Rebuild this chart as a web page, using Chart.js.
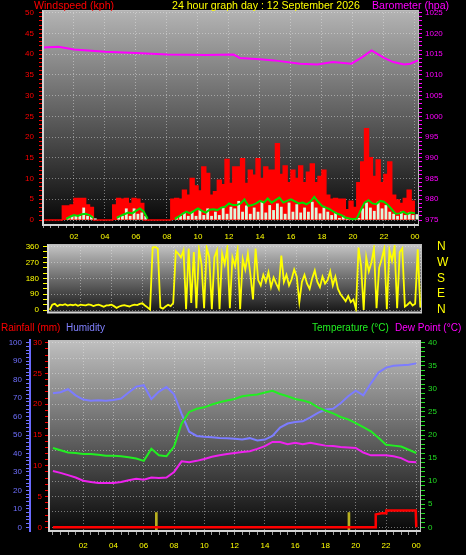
<!DOCTYPE html>
<html>
<head>
<meta charset="utf-8">
<script src="https://cdn.jsdelivr.net/npm/chart.js@4.4.1/dist/chart.umd.min.js"></script>
<style>
  html, body { margin: 0; padding: 0; background: #000; }
  body { width: 466px; height: 555px; position: relative; overflow: hidden; }
  canvas { position: absolute; left: 0; }
  #windChart { top: 0; }
  #dirChart { top: 228px; }
  #tempChart { top: 315px; }
</style>
</head>
<body>
<canvas id="windChart" width="466" height="240"></canvas>
<canvas id="dirChart" width="466" height="94"></canvas>
<canvas id="tempChart" width="466" height="240"></canvas>
<script>
// ---- wind panel, one reading per quarter hour from 00:00 ----
const gustKph = [0, 0, 0, 0, 0, 0, 3.4, 3.4, 3.6, 5.2, 5.2, 5.2, 3.6, 3.0,
    0, 0, 0, 0, 0, 3.6, 5.2, 5.0, 5.2, 4.0, 5.2, 5.0, 4.0,
    0, 0, 0, 0, 0, 0, 0,
    5.0, 5.2, 5.0, 7.2, 6.0, 10, 8.2, 7.0, 12.8, 11.2, 6.0, 6.8, 9.6, 8.5, 14.6,
    8.8, 12.8, 12.8, 14.8, 8.8, 12.0, 10.8, 14.8, 10, 12.8, 12.0, 12, 18.4, 11, 13, 9,
    12, 10, 13, 9, 11.5, 13.5, 9, 10.5, 12, 6, 5, 5.2, 5.0, 5.0, 2.5, 4.5, 3.0,
    9, 14, 22, 15, 10.5, 14.5, 9, 11, 14, 6, 4.8, 4.0, 5.2, 7.2, 4.5];
const speedKph = [0, 0, 0, 0, 0, 0, 0.6, 1.0, 1.0, 1.0, 3.0, 1.0, 1.0, 0.4,
    0, 0, 0, 0, 0, 0.8, 1.0, 2.8, 1.0, 2.8, 1.5, 1.8, 1.0,
    0, 0, 0, 0, 0, 0, 0,
    0.5, 1.0, 1.8, 1.0, 2.0, 1.0, 2.4, 1.2, 2.8, 1.0, 2.0, 1.2, 3.0, 1.5, 3.2,
    2.8, 4.6, 2.0, 3.5, 1.5, 3.0, 2.0, 4.6, 1.8, 3.6, 2.4, 4.0, 3.2, 1.5, 4.2, 2.0,
    3.8, 1.8, 3.0, 2.0, 4.4, 3.0, 1.6, 3.0, 2.0, 1.2, 1.8, 0.5, 1.0, 0.3, 0.2, 0.3, 0.5,
    2.8, 4.2, 3.0, 2.2, 4.4, 2.8, 3.6, 2.0, 1.5, 1.0, 2.0, 1.2, 1.8, 1.2, 1.4];
// average speed, null while calm
const avgKph = [null, null, null, null, null, null, 0.3, 0.8, 1.2, 1.0, 1.4, 1.5, 1.2, 0.5,
    null, null, null, null, null, 0.5, 1.0, 1.4, 1.8, 1.6, 2.2, 2.8, 2.0,
    0.3, null, null, null, null, null, null,
    0.3, 0.8, 1.5, 2.0, 1.6, 2.2, 2.8, 2.2, 1.8, 2.5, 2.6, 2.4, 3.0, 3.2, 4.0,
    3.6, 3.6, 4.0, 5.0, 3.4, 3.6, 4.0, 4.6, 4.2, 5.2, 4.2, 4.8, 5.4, 4.2, 4.6, 5.0,
    4.5, 4.0, 4.2, 3.8, 4.4, 5.6, 4.4, 3.4, 3.0, 2.6, 2.0, 1.5, 1.2, 0.6, 0.4, 0.2, 0.4,
    2.4, 4.2, 4.8, 4.0, 3.8, 4.6, 4.4, 3.6, 2.6, 1.5, 1.6, 2.0, 1.4, 1.8, 1.6];
const baroHours = [0, 1, 2, 4, 6, 8, 10.5, 12.3, 12.7, 14, 14.9, 16.6, 17.7, 18.7, 19.9, 20.6, 21.2, 22.0, 22.6, 23.3, 23.7, 24.2];
const baroHpa = [1016.6, 1016.8, 1016.1, 1015.6, 1015.3, 1014.9, 1014.8, 1014.9, 1014.1, 1013.8, 1013.5,
    1012.7, 1012.5, 1013.1, 1012.7, 1014.3, 1015.9, 1014.1, 1013.1, 1012.5, 1012.7, 1013.5];
const windTicks = [0, 5, 10, 15, 20, 25, 30, 35, 40, 45, 50];
const baroTicks = [975, 980, 985, 990, 995, 1000, 1005, 1010, 1015, 1020, 1025];

// ---- wind direction, one reading every 10 minutes ----
const dirDeg = [0, 30, 35, 22, 30, 28, 33, 25, 30, 27,
    32, 24, 30, 28, 26, 32, 29, 22, 28, 30,
    25, 18, 26, 27, 30, 22, 12, 20, 25, 28,
    24, 20, 27, 30, 28, 35, 38, 26, 15, 2,
    355, 358, 350, 15, 8, 20, 30, 22, 40, 335,
    320, 300, 340, 5, 350, 40, 330, 10, 345, 260,
    10, 355, 300, 5, 300, 340, 5, 320, 260, 350,
    10, 300, 250, 340, 5, 290, 230, 320, 200, 60,
    350, 170, 140, 200, 160, 215, 130, 185, 150, 120,
    310, 160, 200, 140, 175, 230, 190, 45, 160, 200,
    150, 120, 180, 225, 160, 130, 190, 150, 170, 220,
    140, 190, 120, 90, 70, 50, 80, 45, 60, 5,
    355, 250, 0, 300, 220, 270, 350, 10, 240, 290,
    350, 5, 340, 280, 360, 10, 330, 350, 20, 30,
    45, 25, 35, 345, 15];
const dirTicks = [0, 90, 180, 270, 360];
const dirLetters = ['N', 'E', 'S', 'W', 'N'];

// ---- temperature panel, half-hourly ----
const humidityPct = [72.6, 73.2, 74.8, 71.5, 69.2, 68.6, 68.8, 68.6, 69.0, 69.8,
    73.0, 76.2, 77.0, 69.5, 73.5, 76.0, 72.0, 61.5, 51.8, 49.5,
    49.0, 48.8, 48.4, 48.2, 48.0, 47.6, 48.3, 47.0, 47.5, 49.5,
    54.0, 56.2, 57.0, 57.4, 59.5, 62.0, 63.8, 64.2, 67.2, 71.0,
    74.0, 71.5, 78.0, 83.8, 86.5, 87.5, 87.8, 88.0, 88.8];
const tempC = [17.2, 16.7, 16.2, 16.1, 15.9, 15.9, 15.7, 15.5, 15.5, 15.4,
    15.2, 14.9, 14.4, 17.0, 15.6, 15.4, 17.5, 22.5, 25.0, 25.7,
    26.0, 26.6, 27.1, 27.5, 27.8, 28.4, 28.6, 28.8, 29.2, 29.6,
    28.9, 28.4, 27.8, 27.5, 27.0, 26.0, 25.3, 24.7, 23.9, 23.4,
    22.6, 21.7, 20.8, 19.4, 17.9, 17.7, 17.5, 16.8, 16.1];
const dewC = [12.2, 11.8, 11.3, 10.8, 10.1, 9.8, 9.6, 9.6, 9.6, 9.8,
    10.2, 10.5, 10.3, 10.8, 10.7, 10.8, 12.0, 14.3, 14.1, 14.4,
    14.8, 15.3, 15.6, 15.9, 16.1, 16.3, 16.5, 17.0, 17.6, 18.5,
    18.5, 18.0, 18.3, 18.0, 18.3, 18.0, 17.7, 17.6, 17.4, 17.3,
    17.2, 16.2, 15.6, 15.6, 15.6, 15.4, 15.0, 14.2, 14.1];
const rainHours = [0, 21.3, 21.32, 21.7, 22.0, 22.02, 23.96, 24.0];
const rainMm = [0, 0, 2.1, 2.3, 2.3, 2.75, 2.75, 0];
const sunHours = [6.83, 19.55];      // sunrise / sunset markers
const sunMarkMm = [2.4, 2.4];
const humTicks = [0, 10, 20, 30, 40, 50, 60, 70, 80, 90, 100];
const rainTicks = [0, 5, 10, 15, 20, 25, 30];
const tempTicks = [0, 5, 10, 15, 20, 25, 30, 35, 40];

const hourTicks = [2, 4, 6, 8, 10, 12, 14, 16, 18, 20, 22, 24];
const hourLabels = ['02', '04', '06', '08', '10', '12', '14', '16', '18', '20', '22', '00'];

const GRID = 'rgba(235,235,235,0.45)';
const NONE = 'rgba(0,0,0,0)';
Chart.defaults.font.family = '"Liberation Sans", Arial, sans-serif';

function perStep(values, step, shift) {
    return values.map((v, i) => ({ x: i * step + shift, y: v }));
}
function pairs(xs, ys) {
    return xs.map((x, i) => ({ x: x, y: ys[i] }));
}
function tickRun(from, to, step) {
    const out = [];
    for (let v = from; v <= to + 1e-6; v += step) out.push({ value: +v.toFixed(3) });
    return out;
}
function near(v, list) {
    return list.some(m => Math.abs(m - v) < 1e-6);
}

function sideAxis(o) {
    return {
        position: o.position,
        weight: o.weight || 0,
        min: o.min, max: o.max,
        afterBuildTicks: s => { s.ticks = tickRun(o.from, o.to, o.step); },
        afterFit: s => { s.width = o.width; },
        ticks: {
            color: o.color, font: { size: o.fontSize || 8 }, padding: o.padding, autoSkip: false,
            callback: v => {
                const k = o.labelAt.findIndex(m => Math.abs(m - v) < 1e-6);
                if (k < 0) return '';
                return o.labelText ? o.labelText[k] : String(o.labelAt[k]);
            }
        },
        grid: {
            drawOnChartArea: !!o.gridAt,
            drawTicks: o.tickLength > 0,
            tickLength: o.tickLength,
            tickWidth: 1,
            tickBorderDash: [],
            color: c => (o.gridAt && c.tick && near(c.tick.value, o.gridAt)) ? GRID : NONE,
            tickColor: c => (!o.markAt || (c.tick && near(c.tick.value, o.markAt))) ? o.color : NONE
        },
        border: { display: !!o.border, color: o.border, width: 2, dash: [1, 2] }
    };
}

function hourAxis(o) {
    return {
        type: 'linear', position: 'bottom', min: o.min, max: o.max, offset: false,
        afterBuildTicks: s => { s.ticks = tickRun(0, 24, 0.5); },
        afterFit: s => { s.height = o.height; },
        ticks: {
            display: o.labels, color: '#ffff00', font: { size: 8 }, padding: o.padding || 0,
            autoSkip: false, maxRotation: 0,
            callback: v => {
                const k = hourTicks.findIndex(m => Math.abs(m - v) < 1e-6);
                return k < 0 ? '' : hourLabels[k];
            }
        },
        grid: {
            offset: false,
            drawTicks: o.tickLength > 0,
            tickLength: o.tickLength,
            tickBorderDash: [],
            color: c => (c.tick && near(c.tick.value, hourTicks)) ? GRID : NONE,
            tickColor: '#9a9a9a'
        },
        border: { display: false, dash: [1, 2] }
    };
}

// gradient plot background, light frame and the coloured headings
const panelDecor = {
    id: 'panelDecor',
    beforeDraw(chart, args, o) {
        const { ctx, chartArea: a } = chart;
        const g = ctx.createLinearGradient(0, a.top, 0, a.bottom);
        g.addColorStop(0, o.top);
        g.addColorStop(1, o.bottom);
        ctx.save();
        ctx.fillStyle = g;
        ctx.fillRect(a.left, a.top, a.right - a.left, a.bottom - a.top);
        ctx.restore();
    },
    afterDraw(chart, args, o) {
        const { ctx, chartArea: a } = chart;
        ctx.save();
        ctx.strokeStyle = '#d4d4d4';
        ctx.lineWidth = 2;
        ctx.beginPath();
        ctx.moveTo(a.left, a.top);
        ctx.lineTo(a.left, a.bottom);
        ctx.lineTo(a.right, a.bottom);
        ctx.stroke();
        ctx.lineWidth = 1;
        ctx.strokeStyle = '#bcbcbc';
        ctx.beginPath();
        ctx.moveTo(a.left, a.top + 0.5);
        ctx.lineTo(a.right - 0.5, a.top + 0.5);
        ctx.lineTo(a.right - 0.5, a.bottom);
        ctx.stroke();
        ctx.font = (o.textSize || 10) + 'px "Liberation Sans", Arial, sans-serif';
        ctx.textBaseline = 'alphabetic';
        (o.texts || []).forEach(t => {
            ctx.fillStyle = t.color;
            ctx.fillText(t.text, t.x, o.textY);
        });
        ctx.restore();
    }
};

function baseOptions(padding, decor) {
    return {
        responsive: false,
        animation: false,
        devicePixelRatio: 1,
        layout: { padding: padding },
        elements: { point: { radius: 0 }, line: { tension: 0 } },
        plugins: { legend: { display: false }, tooltip: { enabled: false }, panelDecor: decor }
    };
}

// ---- top: wind speed and barometer ----
const windOpts = baseOptions({ top: 10, left: 0, right: 0, bottom: 0 }, {
    top: '#b4b4b4', bottom: '#050505', textY: 9, textSize: 10.6,
    texts: [
        { text: 'Windspeed (kph)', x: 34, color: '#ff0000' },
        { text: '24 hour graph day : 12 September 2026', x: 172, color: '#ffff00' },
        { text: 'Barometer (hpa)', x: 372, color: '#ff00ff' }
    ]
});
windOpts.scales = {
    x: hourAxis({ min: 0, max: 24.26, height: 15, tickLength: 3, padding: 4, labels: true }),
    yWind: sideAxis({ position: 'left', min: -1.2, max: 50.65, from: 0, to: 50, step: 1,
        labelAt: windTicks, gridAt: windTicks, width: 43, color: '#ff0000', padding: 5, tickLength: 4 }),
    yBaro: sideAxis({ position: 'right', min: 973.8, max: 1025.65, from: 975, to: 1025, step: 1,
        labelAt: baroTicks, width: 47, color: '#ff00ff', padding: 3, tickLength: 3 })
};
new Chart(document.getElementById('windChart'), {
    type: 'line',
    data: {
        datasets: [
            { data: pairs(baroHours, baroHpa), yAxisID: 'yBaro', borderColor: '#ff00ff', borderWidth: 2, order: 1 },
            { data: perStep(avgKph, 0.25, 0), yAxisID: 'yWind', borderColor: '#00dd00', borderWidth: 2, order: 2 },
            { type: 'bar', data: perStep(speedKph, 0.25, 0.125), yAxisID: 'yWind', backgroundColor: '#dcf6dc',
              barPercentage: 0.72, categoryPercentage: 1, order: 3 },
            { data: perStep(gustKph, 0.25, 0), yAxisID: 'yWind', borderColor: '#ff0000', backgroundColor: '#ff0000',
              borderWidth: 1.5, stepped: 'after', fill: 'origin', order: 4 }
        ]
    },
    options: windOpts,
    plugins: [panelDecor]
});

// ---- middle: wind direction ----
const dirOpts = baseOptions({ top: 16, left: 0, right: 0, bottom: 9.5 }, {
    top: '#c6c6c6', bottom: '#151515', textY: 0, texts: []
});
dirOpts.scales = {
    x: hourAxis({ min: -0.11, max: 24.11, height: 0, tickLength: 0, labels: false }),
    yDir: sideAxis({ position: 'left', min: -14.2, max: 375.4, from: 0, to: 360, step: 30,
        labelAt: dirTicks, gridAt: dirTicks, width: 48, color: '#ffff00', padding: 4, tickLength: 5 }),
    // compass letters: spaced off the plot by an invisible tick instead of label padding
    yCompass: sideAxis({ position: 'right', min: -14.2, max: 375.4, from: 0, to: 360, step: 90,
        labelAt: dirTicks, labelText: dirLetters, markAt: [], width: 44, color: '#ffff00', fontSize: 12,
        padding: 0, tickLength: 15 })
};
new Chart(document.getElementById('dirChart'), {
    type: 'line',
    data: {
        datasets: [
            { data: perStep(dirDeg, 1 / 6, 0), yAxisID: 'yDir', borderColor: '#ffff00', borderWidth: 1.8 }
        ]
    },
    options: dirOpts,
    plugins: [panelDecor]
});

// ---- bottom: rain, humidity, temperature, dew point ----
const tempOpts = baseOptions({ top: 25, left: 0, right: 0, bottom: 0 }, {
    top: '#c0c0c0', bottom: '#080808', textY: 16, textSize: 10,
    texts: [
        { text: 'Rainfall (mm)', x: 1, color: '#ff0000' },
        { text: 'Humidity', x: 66, color: '#8080ff' },
        { text: 'Temperature (°C)', x: 312, color: '#22ee22' },
        { text: 'Dew Point (°C)', x: 395, color: '#ff00ff' }
    ]
});
const RAIN_MIN = -0.6;
tempOpts.scales = {
    x: hourAxis({ min: -0.26, max: 24.31, height: 24, tickLength: 4, padding: 6, labels: true }),
    yRain: sideAxis({ position: 'left', weight: 0, min: RAIN_MIN, max: 30.44, from: 0, to: 30, step: 0.5,
        labelAt: rainTicks, markAt: tickRun(0, 30, 1).map(t => t.value), gridAt: tickRun(0, 30, 2.5).map(t => t.value),
        width: 19, color: '#ff0000', padding: 3, tickLength: 4 }),
    yHum: sideAxis({ position: 'left', weight: 1, min: -2, max: 101.46, from: 0, to: 100, step: 2,
        labelAt: humTicks, width: 30, color: '#7070ff', padding: 4, tickLength: 4, border: '#6a6aff' }),
    yTemp: sideAxis({ position: 'right', min: -0.8, max: 40.59, from: 0, to: 40, step: 1,
        labelAt: tempTicks, width: 45, color: '#22dd22', padding: 3, tickLength: 4 })
};
new Chart(document.getElementById('tempChart'), {
    type: 'line',
    data: {
        datasets: [
            { data: pairs(rainHours, rainMm), yAxisID: 'yRain', borderColor: '#ff0000', borderWidth: 2.5, order: 1 },
            { type: 'bar', data: sunHours.map((h, i) => ({ x: h, y: [RAIN_MIN, sunMarkMm[i]] })), yAxisID: 'yRain',
              backgroundColor: '#b8b020', barThickness: 2, order: 2 },
            { data: perStep(dewC, 0.5, 0), yAxisID: 'yTemp', borderColor: '#ee22ee', borderWidth: 2, order: 3 },
            { data: perStep(tempC, 0.5, 0), yAxisID: 'yTemp', borderColor: '#22ee22', borderWidth: 2, order: 4 },
            { data: perStep(humidityPct, 0.5, 0), yAxisID: 'yHum', borderColor: '#7c7cff', borderWidth: 2, order: 5 }
        ]
    },
    options: tempOpts,
    plugins: [panelDecor]
});
</script>
</body>
</html>
